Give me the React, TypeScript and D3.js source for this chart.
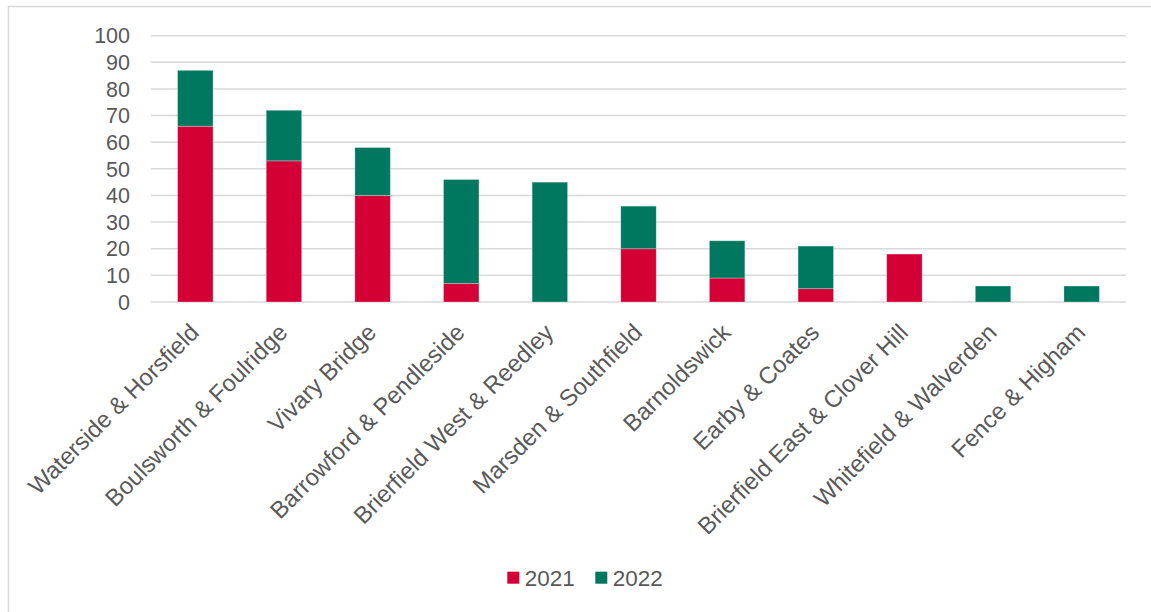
import React from "react";
import * as d3 from "d3";

const categories = [
  "Waterside & Horsfield",
  "Boulsworth & Foulridge",
  "Vivary Bridge",
  "Barrowford & Pendleside",
  "Brierfield West & Reedley",
  "Marsden & Southfield",
  "Barnoldswick",
  "Earby & Coates",
  "Brierfield East & Clover Hill",
  "Whitefield & Walverden",
  "Fence & Higham",
];
const values2021 = [66, 53, 40, 7, 0, 20, 9, 5, 18, 0, 0];
const values2022 = [21, 19, 18, 39, 45, 16, 14, 16, 0, 6, 6];
const seriesNames = ["2021", "2022"];
const seriesColors = ["#D40035", "#00775F"];
const yTicks = [0, 10, 20, 30, 40, 50, 60, 70, 80, 90, 100];

const W = 1151;
const H = 612;
const plotLeft = 151;
const plotRight = 1126;
const plotTop = 35.7;
const plotBottom = 302;
const textColor = "#595959";
const font = "'Liberation Sans', Arial, sans-serif";

export default function App() {
  const x = d3
    .scaleBand<string>()
    .domain(categories)
    .range([plotLeft, plotRight])
    .paddingInner(0.6)
    .paddingOuter(0.3);
  const y = d3.scaleLinear().domain([0, 100]).range([plotBottom, plotTop]);

  const rows = categories.map((c, i) => ({ c, s0: values2021[i], s1: values2022[i] }));
  const stack = d3.stack<any>().keys(["s0", "s1"])(rows);

  return (
    <svg
      width={W}
      height={H}
      style={{ position: "absolute", left: 0, top: 0, background: "#fff" }}
      fontFamily={font}
    >
      <rect x={8.5} y={6.5} width={1200} height={700} fill="#fff" stroke="#D9D9D9" strokeWidth={1.5} />
      {yTicks.map((t) => (
        <g key={t}>
          <line x1={plotLeft} x2={plotRight} y1={y(t)} y2={y(t)} stroke="#D9D9D9" strokeWidth={1.5} />
          <text
            x={130}
            y={y(t)}
            dy="0.36em"
            textAnchor="end"
            fontSize={21.5}
            fill={textColor}
          >
            {t}
          </text>
        </g>
      ))}
      {stack.map((layer, si) => (
        <g key={si}>
          {layer.map((d, i) =>
            d[1] - d[0] > 0 ? (
              <rect
                key={i}
                x={x(categories[i])!}
                width={x.bandwidth()}
                y={y(d[1])}
                height={y(d[0]) - y(d[1])}
                fill={seriesColors[si]}
                stroke="#ffffff"
                strokeOpacity={0.35}
                strokeWidth={0.8}
              />
            ) : null
          )}
        </g>
      ))}
      {categories.map((c) => {
        const cx = x(c)! + x.bandwidth() / 2 + 5;
        const cy = 334;
        return (
          <text
            key={c}
            transform={`translate(${cx},${cy}) rotate(-45)`}
            textAnchor="end"
            fontSize={23.8}
            fill={textColor}
          >
            {c}
          </text>
        );
      })}
      {seriesNames.map((n, i) => {
        const lx = 507.3 + i * 88;
        return (
          <g key={n}>
            <rect x={lx} y={571.7} width={12} height={12} fill={seriesColors[i]} />
            <text x={lx + 17.5} y={586} fontSize={22.5} fill={textColor}>
              {n}
            </text>
          </g>
        );
      })}
    </svg>
  );
}
